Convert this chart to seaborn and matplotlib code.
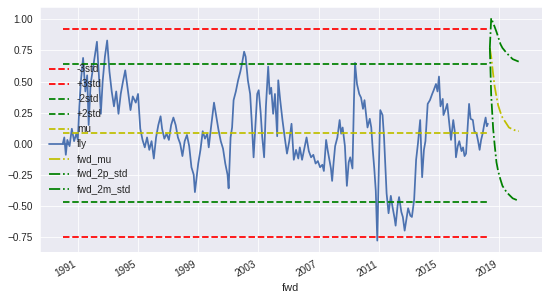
import numpy as np
import pandas as pd
import matplotlib
matplotlib.use("Agg")
import matplotlib.pyplot as plt
import matplotlib.dates as mdates
import seaborn as sns

# ---------------- data ----------------
fly_years = [
    1990.00, 1990.10, 1990.20, 1990.30, 1990.45, 1990.60, 1990.75, 1990.90, 1991.00, 1991.10,
    1991.20, 1991.35, 1991.50, 1991.62, 1991.72, 1991.85, 1992.00, 1992.15, 1992.27, 1992.40,
    1992.53, 1992.65, 1992.80, 1992.95, 1993.10, 1993.25, 1993.40, 1993.55, 1993.70, 1993.85,
    1994.00, 1994.15, 1994.30, 1994.50, 1994.65, 1994.85, 1995.00, 1995.15, 1995.30, 1995.45,
    1995.60, 1995.75, 1995.90, 1996.05, 1996.20, 1996.35, 1996.50, 1996.60, 1996.75, 1996.90,
    1997.05, 1997.20, 1997.35, 1997.50, 1997.65, 1997.80, 1997.95, 1998.10, 1998.25, 1998.40,
    1998.55, 1998.70, 1998.78, 1998.90, 1999.00, 1999.15, 1999.30, 1999.45, 1999.60, 1999.70,
    1999.85, 2000.05, 2000.20, 2000.35, 2000.50, 2000.65, 2000.80, 2000.95, 2001.02, 2001.15,
    2001.25, 2001.35, 2001.50, 2001.65, 2001.80, 2001.92, 2002.05, 2002.15, 2002.30, 2002.45,
    2002.55, 2002.68, 2002.80, 2002.92, 2003.02, 2003.15, 2003.25, 2003.38, 2003.50, 2003.65,
    2003.75, 2003.85, 2003.98, 2004.10, 2004.25, 2004.32, 2004.45, 2004.60, 2004.75, 2004.90,
    2005.05, 2005.20, 2005.35, 2005.50, 2005.65, 2005.75, 2005.90, 2006.05, 2006.20, 2006.35,
    2006.50, 2006.65, 2006.80, 2006.95, 2007.10, 2007.25, 2007.35, 2007.50, 2007.60, 2007.72,
    2007.82, 2007.90, 2008.00, 2008.10, 2008.25, 2008.40, 2008.50, 2008.60, 2008.75, 2008.88,
    2009.00, 2009.10, 2009.25, 2009.35, 2009.42, 2009.55, 2009.70, 2009.82, 2009.95, 2010.05,
    2010.25, 2010.40, 2010.50, 2010.60, 2010.70, 2010.80, 2010.90, 2011.00, 2011.10, 2011.25,
    2011.35, 2011.42, 2011.52, 2011.65, 2011.80, 2011.90, 2012.05, 2012.12, 2012.25, 2012.35,
    2012.50, 2012.60, 2012.72, 2012.85, 2012.95, 2013.10, 2013.20, 2013.35, 2013.48, 2013.60,
    2013.75, 2013.88, 2014.00, 2014.10, 2014.25, 2014.40, 2014.55, 2014.65, 2014.80, 2014.90,
    2015.00, 2015.10, 2015.25, 2015.30, 2015.45, 2015.55, 2015.70, 2015.80, 2015.95, 2016.05,
    2016.13, 2016.25, 2016.35, 2016.50, 2016.60, 2016.70, 2016.80, 2016.92, 2017.00, 2017.10,
    2017.25, 2017.35, 2017.50, 2017.60, 2017.70, 2017.80, 2017.90, 2018.00, 2018.10, 2018.18,
    2018.25,
]
fly_values = [
    0.00, 0.05, -0.09, 0.03, -0.02, 0.12, 0.02, 0.08, 0.03, 0.30,
    0.50, 0.69, 0.42, 0.55, 0.15, 0.48, 0.60, 0.72, 0.82, 0.55,
    0.24, 0.50, 0.70, 0.83, 0.58, 0.42, 0.30, 0.42, 0.24, 0.40,
    0.50, 0.59, 0.45, 0.27, 0.38, 0.33, 0.40, 0.12, 0.03, -0.03,
    0.05, -0.05, 0.02, -0.12, 0.05, 0.15, 0.22, 0.12, 0.04, 0.08,
    0.03, 0.15, 0.21, 0.15, 0.05, 0.00, -0.10, 0.02, 0.07, -0.02,
    -0.19, -0.25, -0.39, -0.26, -0.16, -0.05, 0.10, 0.04, 0.08, -0.03,
    0.13, 0.33, 0.22, 0.11, 0.02, -0.04, -0.16, -0.25, -0.36, 0.05,
    0.13, 0.35, 0.42, 0.51, 0.58, 0.65, 0.74, 0.70, 0.51, 0.40,
    0.19, -0.11, 0.15, 0.40, 0.43, 0.25, 0.06, -0.11, 0.30, 0.62,
    0.40, 0.45, 0.24, 0.40, 0.06, 0.51, 0.35, 0.19, 0.05, -0.08,
    0.02, 0.16, -0.13, -0.05, -0.12, -0.03, -0.13, -0.04, 0.05, -0.06,
    -0.11, -0.09, -0.16, -0.14, -0.19, -0.17, -0.22, 0.03, -0.05, -0.13,
    -0.20, -0.30, -0.15, -0.02, 0.05, 0.19, 0.08, 0.13, -0.02, -0.34,
    -0.15, -0.11, -0.20, 0.35, 0.65, 0.48, 0.40, 0.37, 0.28, 0.35,
    0.13, 0.20, 0.13, -0.05, -0.20, -0.38, -0.78, -0.22, 0.27, 0.23,
    0.05, -0.13, -0.40, -0.56, -0.42, -0.50, -0.60, -0.66, -0.50, -0.43,
    -0.55, -0.59, -0.70, -0.60, -0.52, -0.58, -0.59, -0.45, -0.13, 0.00,
    0.19, -0.27, -0.05, 0.02, 0.32, 0.35, 0.40, 0.43, 0.48, 0.42,
    0.54, 0.30, 0.36, 0.23, 0.28, 0.32, 0.15, 0.03, 0.19, 0.10,
    -0.11, -0.02, 0.02, -0.06, -0.03, -0.10, -0.08, 0.15, 0.32, 0.20,
    0.19, 0.10, 0.08, 0.02, -0.05, 0.03, 0.08, 0.15, 0.21, 0.14,
    0.16,
]

# horizontal reference levels
level_span = [1990.0, 2018.25]
level_names = ["-3std", "+3std", "-2std", "+2std", "mu"]
level_values = [-0.75, 0.92, -0.47, 0.64, 0.085]
level_colors = ["r", "r", "g", "g", "y"]

# forward projection
fwd_years = [2018.38, 2018.47, 2018.60, 2018.70, 2018.82, 2018.93, 2019.09,
             2019.22, 2019.49, 2019.65, 2019.90, 2020.10, 2020.30]
fwd_mu = [0.77, 0.70, 0.56, 0.46, 0.38, 0.31, 0.25, 0.21, 0.16, 0.13, 0.115, 0.105, 0.10]
fwd_2p_std = [0.77, 1.01, 0.97, 0.94, 0.90, 0.86, 0.80, 0.77, 0.73, 0.71, 0.68, 0.67, 0.66]
fwd_2m_std = [0.77, 0.39, 0.12, -0.01, -0.15, -0.22, -0.29, -0.34, -0.39, -0.41, -0.44, -0.45, -0.46]

tick_years = [1991, 1995, 1999, 2003, 2007, 2011, 2015, 2019]
y_ticks = [-0.75, -0.50, -0.25, 0.00, 0.25, 0.50, 0.75, 1.00]


def to_date(y):
    yi = int(np.floor(y))
    return pd.Timestamp(yi, 1, 1) + pd.Timedelta(days=(y - yi) * 365.25)


# ---------------- style ----------------
sns.set_style("darkgrid")
plt.rcParams["font.family"] = ["Liberation Sans", "DejaVu Sans"]
plt.rcParams["xtick.labelsize"] = 10
plt.rcParams["ytick.labelsize"] = 10
plt.rcParams["axes.labelsize"] = 11
plt.rcParams["legend.fontsize"] = 10

fig = plt.figure(figsize=(549 / 72, 300 / 72), dpi=72)
ax = fig.add_axes([40 / 549, 1 - 251.7 / 300, (541.5 - 40) / 549, (251.7 - 7) / 300])

lw = 1.75
span_dates = [to_date(v) for v in level_span]
deep_blue = sns.color_palette("deep")[0]

for name, val, col in zip(level_names, level_values, level_colors):
    df = pd.DataFrame({"fwd": span_dates, "v": [val, val]})
    sns.lineplot(data=df, x="fwd", y="v", ax=ax, color=col, linestyle="--",
                 linewidth=lw, label=name, zorder=3)

fly_df = pd.DataFrame({"fwd": [to_date(v) for v in fly_years], "v": fly_values})
sns.lineplot(data=fly_df, x="fwd", y="v", ax=ax, color=deep_blue, linewidth=lw,
             label="fly", zorder=2, estimator=None)

fwd_dates = [to_date(v) for v in fwd_years]
for name, vals, col in [("fwd_mu", fwd_mu, "y"), ("fwd_2p_std", fwd_2p_std, "g"),
                        ("fwd_2m_std", fwd_2m_std, "g")]:
    df = pd.DataFrame({"fwd": fwd_dates, "v": vals})
    sns.lineplot(data=df, x="fwd", y="v", ax=ax, color=col, linestyle="-.",
                 linewidth=lw, label=name, zorder=3, estimator=None)

ax.set_xticks(mdates.date2num([pd.Timestamp(y, 1, 1).to_pydatetime() for y in tick_years]))
ax.set_xticklabels([str(y) for y in tick_years], rotation=30, ha="right")
ax.set_yticks(y_ticks)
ax.set_yticklabels([f"{v:.2f}".replace("-", "\u2212") for v in y_ticks])
ax.set_xlabel("fwd")
ax.set_ylabel("")
ax.legend(loc="center left", frameon=False)

fig.savefig("out.png", dpi=72)
